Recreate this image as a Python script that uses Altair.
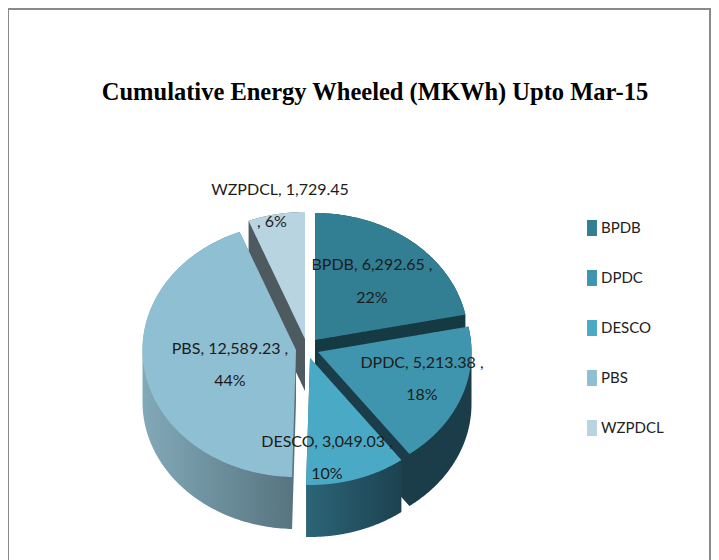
import numpy as np
import pandas as pd
import altair as alt

# ---- values
names = ["BPDB", "DPDC", "DESCO", "PBS", "WZPDCL"]
values = [6292.65, 5213.38, 3049.03, 12589.23, 1729.45]
line1 = ["BPDB, 6,292.65 ,", "DPDC, 5,213.38 ,", "DESCO, 3,049.03 ,", "PBS, 12,589.23 ,", "WZPDCL, 1,729.45"]
line2 = ["22%", "18%", "10%", "44%", ", 6%"]
title = "Cumulative Energy  Wheeled (MKWh)  Upto  Mar-15"

# ---- styles and layout (not data)
top_colors = ["#327f94", "#3f95ae", "#4aaac6", "#8fbfd2", "#b8d4e1"]
side_colors = [("#163a44", "#163a44"), ("#1a3d49", "#1a3d49"), ("#2c6577", "#1c4250"),
               ("#82a9b8", "#56737f"), ("#4d5a5f", "#4d5a5f")]
apex_px = [(315, 340), (318, 352), (310, 358), (296, 350), (305, 339)]
label_px = [(372, 265, 298), (422, 363, 395), (327, 442, 474), (230, 349, 381), (280, 190, 222)]
label_dx = [0, 0, 0, 0, -8]
CX, CY, RX, RY, DEPTH = 310, 350, 153.5, 127, 52
W, H = 703, 552
FONT = "Lato"


def ux(px):
    return (px - CX) / RX


def uy(py):
    return (CY - py) / RY


xscale = alt.Scale(domain=[ux(8), ux(8 + W)], nice=False, zero=False)
yscale = alt.Scale(domain=[uy(8 + H), uy(8)], nice=False, zero=False)
shares = np.array(values) / sum(values)
ends = np.cumsum(shares) * 2 * np.pi
starts = ends - shares * 2 * np.pi


def envelope(i, depth):
    ax, ay = ux(apex_px[i][0]), uy(apex_px[i][1])
    t = np.linspace(starts[i], ends[i], 160)
    px = np.r_[ax, ax + np.sin(t)]
    py = np.r_[ay, ay + np.cos(t)]
    rows = []
    qx = np.unique(px)
    for x in qx:
        ys = []
        for k in range(len(px)):
            x0, y0, x1, y1 = px[k], py[k], px[(k + 1) % len(px)], py[(k + 1) % len(px)]
            if min(x0, x1) <= x <= max(x0, x1):
                if x0 == x1:
                    ys += [y0, y1]
                else:
                    ys.append(y0 + (y1 - y0) * (x - x0) / (x1 - x0))
        rows.append({"x": x, "y": max(ys), "y2": min(ys) - depth, "name": names[i]})
    return pd.DataFrame(rows)


enc = dict(
    x=alt.X("x:Q", scale=xscale, axis=None),
    y=alt.Y("y:Q", scale=yscale, axis=None),
    y2="y2:Q",
)
layers = []
for i in [4, 0, 1, 2, 3]:
    c0, c1 = side_colors[i]
    grad = alt.Gradient(gradient="linear", x1=0, x2=1, y1=0, y2=0,
                        stops=[alt.GradientStop(color=c0, offset=0), alt.GradientStop(color=c1, offset=1)])
    layers.append(alt.Chart(envelope(i, DEPTH / RY)).mark_area(fill=grad).encode(**enc))
    layers.append(alt.Chart(envelope(i, 0)).mark_area().encode(
        color=alt.Color("name:N", scale=alt.Scale(domain=names, range=top_colors),
                        legend=alt.Legend(title=None, orient="none", legendX=576, legendY=212,
                                          symbolType="M-0.62,-1H0.62V1H-0.62Z", symbolSize=256, symbolStrokeWidth=0,
                                          symbolOpacity=1, labelFont=FONT, labelFontSize=15, labelColor="#222222",
                                          rowPadding=34, labelOffset=1, labelLimit=120)),
        **enc))

rows = []
for i, n in enumerate(names):
    lx, ly1, ly2 = label_px[i]
    rows.append({"x": ux(lx), "y": uy(ly1), "text": line1[i]})
    rows.append({"x": ux(lx + label_dx[i]), "y": uy(ly2), "text": line2[i]})
labels = alt.Chart(pd.DataFrame(rows)).mark_text(
    font=FONT, fontSize=16, color="#1c1c1c", align="center", baseline="middle"
).encode(x=alt.X("x:Q", scale=xscale, axis=None), y=alt.Y("y:Q", scale=yscale, axis=None), text="text:N")

one = pd.DataFrame({"a": [0]})
frame = [
    alt.Chart(one).mark_rule(color="#8a8a8a", strokeWidth=2).encode(x=alt.value(0)),
    alt.Chart(one).mark_rule(color="#8a8a8a", strokeWidth=2).encode(x=alt.value(702)),
    alt.Chart(one).mark_rule(color="#8a8a8a", strokeWidth=2).encode(y=alt.value(1)),
]
heading = alt.Chart(pd.DataFrame({"t": [title]})).mark_text(
    font="Liberation Serif", fontWeight="bold", fontSize=24.5, color="#000000", align="center", baseline="middle"
).encode(x=alt.value(367), y=alt.value(85), text="t:N")

chart = alt.layer(*frame, heading, *layers, labels).properties(
    width=W, height=H, padding=0, background="white",
    autosize=alt.AutoSizeParams(type="none")
).configure_view(stroke=None)

chart.save("out.html", embed_options={"renderer": "svg", "actions": False})
